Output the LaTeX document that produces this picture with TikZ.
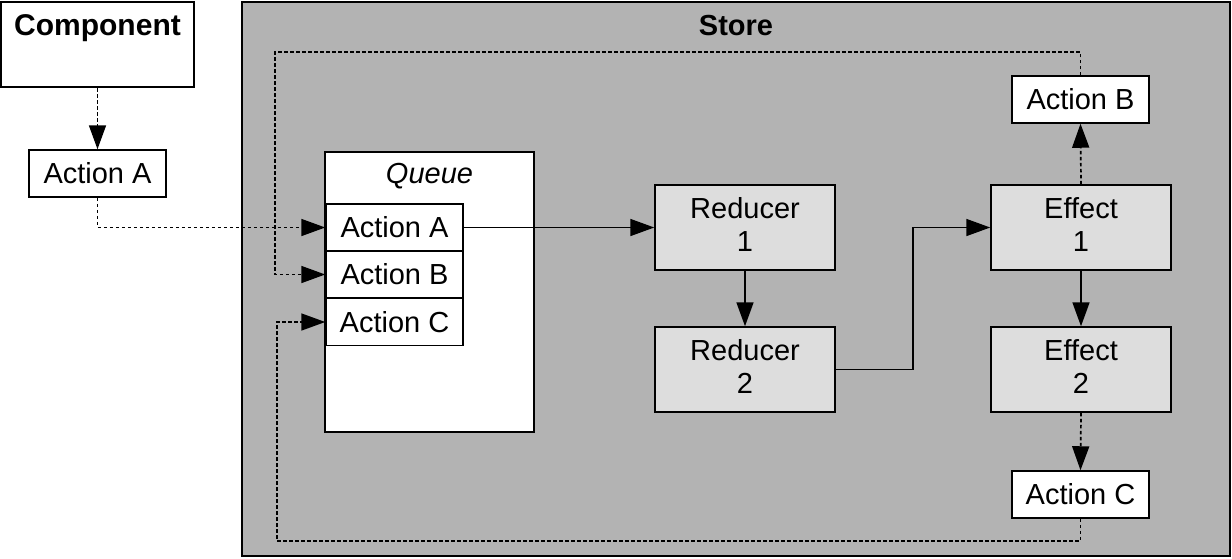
\documentclass[tikz,border=0pt]{standalone}
\usepackage{fontspec}
\setmainfont{Liberation Sans}
\usetikzlibrary{arrows.meta}
\definecolor{storegray}{HTML}{B3B3B3}
\definecolor{procgray}{HTML}{DDDDDD}
\tikzset{
  txt/.style={font=\fontsize{29}{33}\selectfont, align=center},
  box/.style={draw=black, line width=1.5pt, inner sep=0pt, txt},
  actbox/.style={box, fill=white, minimum width=137pt, minimum height=47pt},
  procbox/.style={box, fill=procgray, minimum width=180pt, minimum height=85pt},
  proclbl/.style={label={[txt, yshift=3pt]center:#1}},
  flow/.style={line width=1.7pt, -{Triangle[length=24pt,width=17pt]}},
  dflow/.style={flow, dash pattern=on 3.5pt off 2.5pt},
}
\begin{document}
\begin{tikzpicture}[x=1pt,y=-1pt]
\useasboundingbox (0,0) rectangle (1232,558);
% containers
\node[box, fill=storegray, line width=2.6pt, minimum width=988pt, minimum height=554pt] (store) at (736,279) {};
\node[txt, font=\fontsize{29}{33}\selectfont\bfseries] (storelbl) at (736,26) {Store};
\node[box, fill=white, line width=2.6pt, minimum width=193pt, minimum height=85pt] (comp) at (97.5,44.5) {};
\node[txt, font=\fontsize{30}{33}\selectfont\bfseries] (complbl) at (97.5,28) {Component};
\node[box, fill=white, minimum width=209pt, minimum height=280pt] (queue) at (429.5,292) {};
\node[txt, font=\fontsize{29}{33}\selectfont\itshape] (queuelbl) at (429.5,176) {Queue};
% actions
\node[actbox] (aA) at (97.5,173.5) {Action A};
\node[actbox] (qA) at (394.5,227.5) {Action A};
\node[actbox] (qB) at (394.5,274.5) {Action B};
\node[actbox] (qC) at (394.5,322) {Action C};
\node[actbox] (actB) at (1080.5,99.5) {Action B};
\node[actbox] (actC) at (1080.5,494.5) {Action C};
% processors
\node[procbox, proclbl={Reducer\\1}] (r1) at (745,227.5) {};
\node[procbox, proclbl={Reducer\\2}] (r2) at (745,369.5) {};
\node[procbox, proclbl={Effect\\1}] (e1) at (1081,227.5) {};
\node[procbox, proclbl={Effect\\2}] (e2) at (1081,369.5) {};
% helper coordinates
\coordinate (tl) at (275,52);
\coordinate (bl) at (277,541);
\coordinate (jx) at (913,227.5);
% connectors
\draw[dflow] (comp.south) -- (aA.north);
\draw[dflow] (aA.south) |- (qA.west);
\draw[dflow] (actB.north) |- (tl) |- (qB.west);
\draw[dflow] (actC.south) |- (bl) |- (qC.west);
\draw[dflow] (e1.north) -- (actB.south);
\draw[dflow] (e2.south) -- (actC.north);
\draw[flow] (qA.east) -- (r1.west);
\draw[flow] (r1.south) -- (r2.north);
\draw[flow] (r2.east) -| (jx) -- (e1.west);
\draw[flow] (e1.south) -- (e2.north);
\end{tikzpicture}
\end{document}
